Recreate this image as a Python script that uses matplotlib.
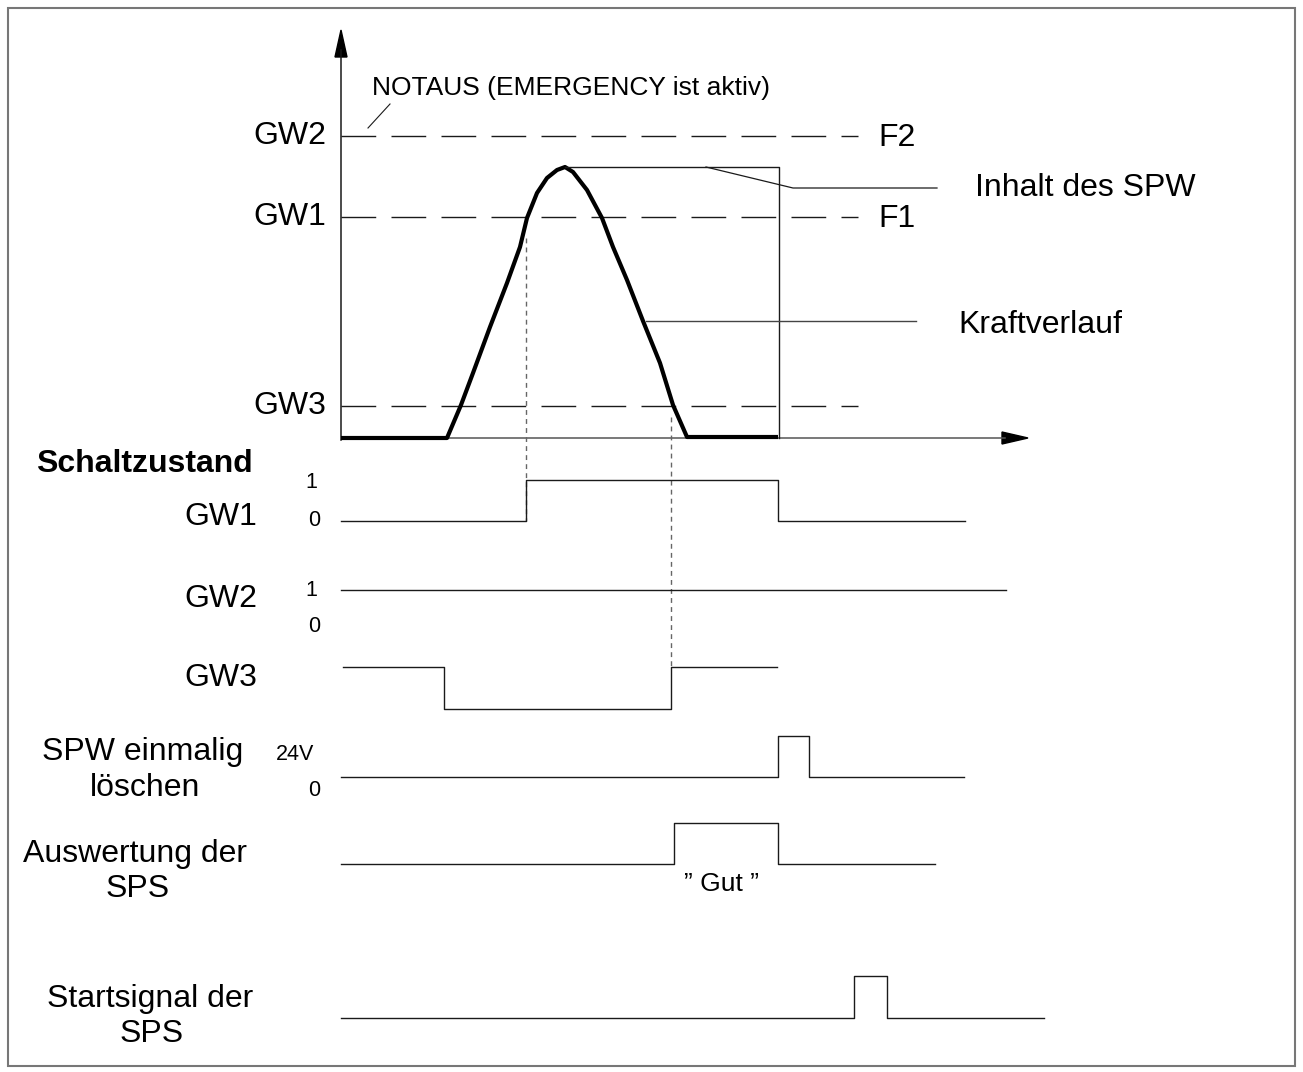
import matplotlib.pyplot as plt
from matplotlib.patches import Rectangle

plt.rcParams['font.family'] = ['Liberation Sans', 'DejaVu Sans']
plt.rcParams['lines.scale_dashes'] = False

# ---- force diagram data (time on the axis scale, force upward from the time axis)
kraft_t = [341, 447, 461, 473, 490, 507, 520, 527, 537, 547, 557, 565,
           573, 587, 602, 613, 627, 643, 660, 673, 687, 778]
kraft_f = [0, 0, 33, 65, 111, 155, 191, 220, 245, 260, 268, 271,
           266, 248, 220, 191, 158, 117, 75, 33, 1, 1]
grenzwerte = {'GW2': 302, 'GW1': 221, 'GW3': 32}
grenz_rechts = {'GW2': 'F2', 'GW1': 'F1'}
spw_wert = 271
spw_von, spw_bis = 565, 779
t_gw1_an = 526
t_gw3_an = 671

# ---- switching states: edge times, levels, end time
sig_gw1 = ([341, 526, 778], [0, 1, 0], 965)
sig_gw2 = ([341], [1], 1006)
sig_gw3 = ([343, 444, 671], [1, 0, 1], 777)
sig_spw = ([341, 778, 809], [0, 1, 0], 964)
sig_sps = ([341, 674, 778], [0, 1, 0], 935)
sig_start = ([341, 854, 887], [0, 1, 0], 1044)

# layout
X0, Y0 = 341, 438
FS = 23
FS_KLEIN = 15.5

fig = plt.figure(figsize=(13.03, 10.72), dpi=100)
ax = fig.add_axes([0, 0, 1, 1])
ax.set_xlim(0, 1303)
ax.set_ylim(1072, 0)
ax.axis('off')

def fy(f):
    return Y0 - f

ink = '#1a1a1a'

# frame
ax.add_patch(Rectangle((8, 8), 1287, 1058, fill=False, ec='#777777', lw=1.5))

# axes with arrows
ax.plot([X0, X0], [Y0 + 2, 50], color=ink, lw=1.1)
ax.fill([X0 - 6, X0 + 6, X0], [57, 57, 30], color='k')
ax.plot([X0, 1005], [Y0, Y0], color='#555555', lw=1.1)
ax.fill([1002, 1002, 1028], [Y0 - 6, Y0 + 6, Y0], color='k')

# threshold lines
for name, val in grenzwerte.items():
    ln, = ax.plot([X0, 858], [fy(val), fy(val)], color=ink, lw=1.0)
    ln.set_dashes((25, 11))
    ax.text(326, fy(val), name, ha='right', va='center', fontsize=FS)
    if name in grenz_rechts:
        ax.text(878, fy(val) + 2, grenz_rechts[name], ha='left', va='center', fontsize=FS)

# NOTAUS
ax.text(372, 88, 'NOTAUS (EMERGENCY ist aktiv)', ha='left', va='center', fontsize=19)
ax.plot([390, 368], [104, 128], color=ink, lw=0.8)

# force curve
ax.plot(kraft_t, [fy(v) for v in kraft_f], color='k', lw=3.0,
        solid_joinstyle='round', solid_capstyle='butt')

# peak value memory box
ax.plot([spw_von, spw_bis, spw_bis], [fy(spw_wert), fy(spw_wert), Y0], color=ink, lw=1.0)
ax.plot([706, 793, 937], [fy(spw_wert), 188, 188], color=ink, lw=0.9)
ax.text(975, 188, 'Inhalt des SPW', ha='left', va='center', fontsize=FS)

ax.plot([646, 916], [321, 321], color='#444444', lw=1.0)
ax.text(958, 325, 'Kraftverlauf', ha='left', va='center', fontsize=FS)

# dotted helper lines
d1, = ax.plot([t_gw1_an, t_gw1_an], [238, 521], color='#666666', lw=1.0)
d1.set_dashes((3.5, 3))
d2, = ax.plot([t_gw3_an, t_gw3_an], [417, 668], color='#666666', lw=1.0)
d2.set_dashes((3.5, 3))


def step_xy(sig, base, amp):
    edges, levels, t_end = sig
    xs, ys = [], []
    for i, lv in enumerate(levels):
        t_next = edges[i + 1] if i + 1 < len(edges) else t_end
        xs += [edges[i], t_next]
        ys += [base - amp * lv, base - amp * lv]
    return xs, ys


rows = [(sig_gw1, 521, 41), (sig_gw2, 628, 38), (sig_gw3, 709, 42),
        (sig_spw, 777, 41), (sig_sps, 864, 41), (sig_start, 1018, 42)]
for sig, base, amp in rows:
    xs, ys = step_xy(sig, base, amp)
    ax.plot(xs, ys, color=ink, lw=1.0)

# labels of lower part
ax.text(36, 464, 'Schaltzustand', ha='left', va='center', fontsize=23, fontweight='bold')
ax.text(257, 517, 'GW1', ha='right', va='center', fontsize=FS)
ax.text(311, 482, '1', ha='center', va='center', fontsize=FS_KLEIN)
ax.text(314, 521, '0', ha='center', va='center', fontsize=FS_KLEIN)
ax.text(257, 599, 'GW2', ha='right', va='center', fontsize=FS)
ax.text(311, 590, '1', ha='center', va='center', fontsize=FS_KLEIN)
ax.text(314, 627, '0', ha='center', va='center', fontsize=FS_KLEIN)
ax.text(257, 678, 'GW3', ha='right', va='center', fontsize=FS)

ax.text(143, 752, 'SPW einmalig', ha='center', va='center', fontsize=FS)
ax.text(145, 788, 'löschen', ha='center', va='center', fontsize=FS)
ax.text(295, 754, '24V', ha='center', va='center', fontsize=FS_KLEIN)
ax.text(314, 790, '0', ha='center', va='center', fontsize=FS_KLEIN)

ax.text(135, 854, 'Auswertung der', ha='center', va='center', fontsize=FS)
ax.text(138, 889, 'SPS', ha='center', va='center', fontsize=FS)
ax.text(721, 884, '” Gut ”', ha='center', va='center', fontsize=19)

ax.text(150, 999, 'Startsignal der', ha='center', va='center', fontsize=FS)
ax.text(152, 1034, 'SPS', ha='center', va='center', fontsize=FS)

fig.savefig('out.png', dpi=100)
